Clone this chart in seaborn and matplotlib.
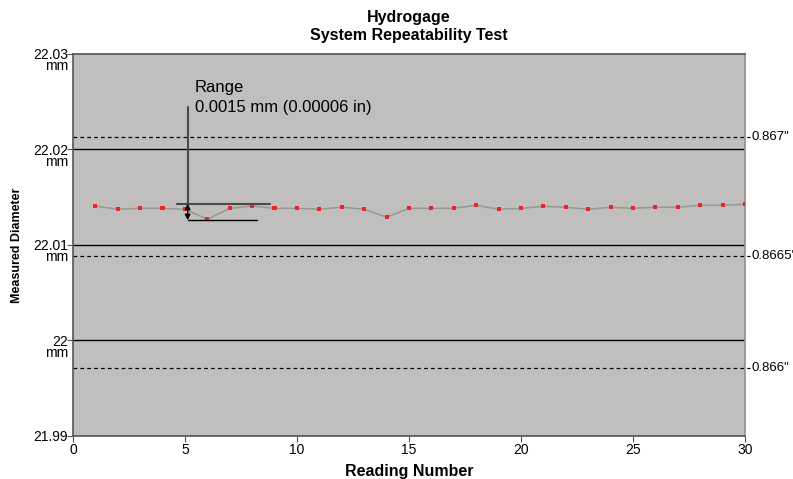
import numpy as np
import pandas as pd
import seaborn as sns
import matplotlib.pyplot as plt

# --- data ---
readings = list(range(1, 31))
diameter_mm = [22.01408, 22.01374, 22.01384, 22.01384, 22.01374, 22.01269, 22.01384, 22.01408,
               22.01384, 22.01384, 22.01374, 22.01396, 22.01374, 22.01290, 22.01384, 22.01384,
               22.01384, 22.01416, 22.01374, 22.01384, 22.01405, 22.01395, 22.01374, 22.01395,
               22.01384, 22.01395, 22.01395, 22.01416, 22.01416, 22.01426]

y_ticks = [21.99, 22.00, 22.01, 22.02, 22.03]
y_tick_labels = ["21.99", "22\nmm", "22.01\nmm", "22.02\nmm", "22.03\nmm"]
x_ticks = [0, 5, 10, 15, 20, 25, 30]
mm_grid = [22.00, 22.01, 22.02]

# inch reference lines (position in mm as drawn on the chart)
inch_lines_mm = [22.02128, 22.00888, 21.99712]
inch_labels = ['0.867"', "0.8665'", '0.866"']

range_text = "Range\n0.0015 mm (0.00006 in)"
range_top = 22.01432
range_bottom = 22.01259

df = pd.DataFrame({"reading": readings, "diameter": diameter_mm})

sns.set_style("white")
plt.rcParams['font.family'] = ['Liberation Sans', 'DejaVu Sans']
plt.rcParams['text.color'] = 'black'
plt.rcParams['axes.labelcolor'] = 'black'
plt.rcParams['xtick.color'] = 'black'
plt.rcParams['ytick.color'] = 'black'

fig = plt.figure(figsize=(7.93, 4.79), dpi=100)
ax = fig.add_axes([0.092, 0.0898, 0.8475, 0.7975])
ax.set_facecolor('#c0bfbd')

# solid mm lines and dashed inch lines
for v in mm_grid:
    ax.axhline(v, color='black', lw=1.0, zorder=1)
for v, lab in zip(inch_lines_mm, inch_labels):
    ax.plot([0, 1.007], [v, v], transform=ax.get_yaxis_transform(), color='black',
            lw=0.9, ls=(0, (3, 2.5)), clip_on=False, zorder=1)
    ax.text(1.009, v, lab, transform=ax.get_yaxis_transform(), ha='left', va='center',
            fontsize=9.5)

sns.lineplot(data=df, x="reading", y="diameter", ax=ax, color='#999795', lw=1.1, zorder=2)
sns.scatterplot(data=df, x="reading", y="diameter", ax=ax, marker='s', s=9,
                color='#e8262a', edgecolor='none', zorder=3)

# range annotation
ax.plot([4.63, 8.79], [range_top, range_top], color='#4a4a4a', lw=1.5, zorder=4)
ax.plot([5.12, 8.2], [range_bottom, range_bottom], color='black', lw=1.0, zorder=4)
ax.plot([5.12, 5.12], [22.02448, range_top], color='#4a4a4a', lw=1.5, zorder=4)
ax.annotate("", xy=(5.12, range_bottom), xytext=(5.12, range_top),
            arrowprops=dict(arrowstyle='<|-|>', color='black', lw=1.0,
                            mutation_scale=8, shrinkA=0, shrinkB=0), zorder=5)
ax.text(5.45, 22.02728, range_text, ha='left', va='top', fontsize=12, linespacing=1.45)

ax.set_xlim(0, 30)
ax.set_ylim(21.99, 22.03)
ax.set_xticks(x_ticks)
ax.set_xticklabels([str(t) for t in x_ticks], fontsize=10)
ax.set_yticks(y_ticks)
ax.set_yticklabels([])

# y tick labels: number centred on the tick, unit on the line below
ytrans = ax.get_yaxis_transform()
for v, lab in zip(y_ticks, y_tick_labels):
    ax.annotate(lab, xy=(0, v), xycoords=ytrans, xytext=(-5, 5.5), textcoords='offset pixels',
                ha='right', va='top', multialignment='right', fontsize=10,
                linespacing=0.72, annotation_clip=False)

ax.tick_params(axis='both', length=4, width=0.8, color='#555555', pad=1, direction='out',
               left=True, bottom=True)
for side in ['left', 'bottom', 'top']:
    ax.spines[side].set_color('#555555')
    ax.spines[side].set_linewidth(1.2)
ax.spines['right'].set_color('#909090')
ax.spines['right'].set_linewidth(1.2)

ax.set_xlabel("Reading Number", fontsize=11.5, fontweight='bold', labelpad=5)
ax.set_ylabel("Measured Diameter", fontsize=9, fontweight='bold', labelpad=31)
ax.set_title("Hydrogage\nSystem Repeatability Test", fontsize=11.5, fontweight='bold',
             linespacing=1.25, pad=10)

plt.savefig("out.png", dpi=100)
